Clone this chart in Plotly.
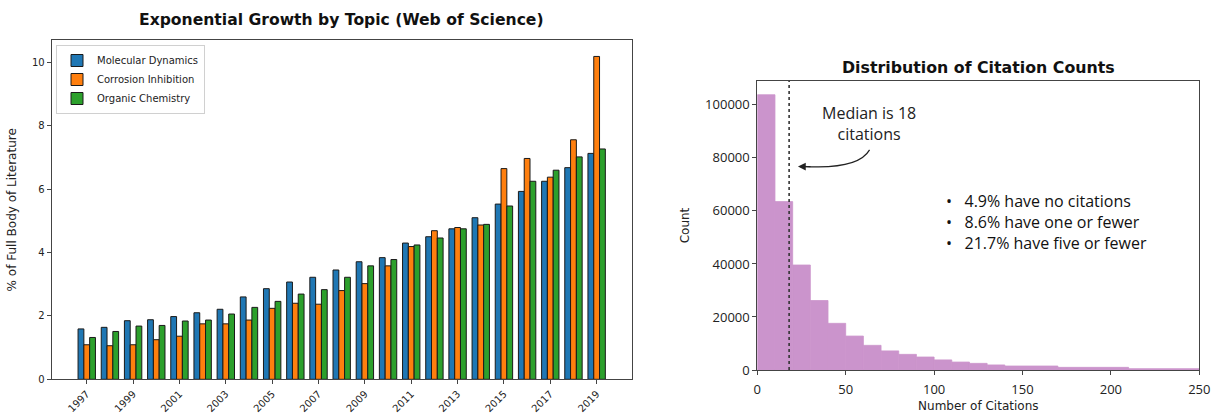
import numpy as np
import plotly.graph_objects as go

# ---- Web of Science share of literature by topic (% of full body) ----
years = list(range(1997, 2020))
molecular_dynamics = [1.59, 1.64, 1.85, 1.88, 1.98, 2.10, 2.21, 2.60, 2.86, 3.07, 3.22, 3.45,
                      3.71, 3.84, 4.30, 4.50, 4.75, 5.10, 5.53, 5.93, 6.25, 6.68, 7.13]
corrosion_inhibition = [1.09, 1.06, 1.09, 1.25, 1.36, 1.75, 1.75, 1.87, 2.24, 2.40, 2.37, 2.80,
                        3.02, 3.58, 4.19, 4.69, 4.79, 4.87, 6.65, 6.97, 6.38, 7.56, 10.19]
organic_chemistry = [1.32, 1.51, 1.68, 1.70, 1.84, 1.87, 2.06, 2.27, 2.46, 2.69, 2.83, 3.22,
                     3.58, 3.78, 4.24, 4.46, 4.75, 4.89, 5.47, 6.25, 6.60, 7.02, 7.27]
year_ticks = list(range(1997, 2020, 2))

# ---- Citation count histogram ----
bin_edges = [0, 10, 20, 30, 40, 50, 60, 70, 80, 90, 100, 110, 120, 130, 140, 170, 210, 250]
bin_counts = [103800, 63500, 39600, 26200, 17600, 12800, 9300, 7200, 5900, 4900,
              3800, 3000, 2500, 1900, 1500, 1000, 500]
median_citations = 18
summary_lines = ["4.9% have no citations", "8.6% have one or fewer", "21.7% have five or fewer"]

W, H = 1211, 413


def px_x(p):
    return p / W


def px_y(p):
    return 1 - p / H


MPL = "DejaVu Sans"
ROUND = "Open Sans"
HIST_COLOR = "#cb94cc"

fig = go.Figure()

series = [
    ("Molecular Dynamics", molecular_dynamics, "#1f77b4"),
    ("Corrosion Inhibition", corrosion_inhibition, "#ff7f0e"),
    ("Organic Chemistry", organic_chemistry, "#2ca02c"),
]
for name, vals, col in series:
    fig.add_trace(go.Bar(
        x=years, y=vals, name=name, xaxis="x", yaxis="y",
        marker=dict(color=col, line=dict(color="#1a1a1a", width=1)),
    ))

edges = np.array(bin_edges, dtype=float)
centers = (edges[:-1] + edges[1:]) / 2
widths = np.diff(edges)
fig.add_trace(go.Bar(
    x=centers, y=bin_counts, width=widths, xaxis="x2", yaxis="y2",
    marker=dict(color=HIST_COLOR, line=dict(color=HIST_COLOR, width=0.8)), showlegend=False,
))

ymax_left = max(max(molecular_dynamics), max(corrosion_inhibition), max(organic_chemistry)) * 1.05
ymax_right = max(bin_counts) * 1.05

axis_common = dict(showline=True, linecolor="#444", linewidth=1, mirror=True,
                   ticks="outside", ticklen=4, tickcolor="#444", showgrid=False,
                   zeroline=False, ticklabeloverflow="allow", automargin=False)

fig.update_layout(
    width=W, height=H, margin=dict(l=0, r=0, t=0, b=0, autoexpand=False),
    paper_bgcolor="white", plot_bgcolor="white",
    barmode="group", bargap=0.25, bargroupgap=0,
    font=dict(family=MPL, color="#222"),
    xaxis=dict(domain=[px_x(51.7), px_x(631.7)], range=[1995.4875, 2020.5125],
               tickvals=year_ticks, tickangle=-45, tickfont=dict(size=10, family=MPL),
               anchor="y", **axis_common),
    yaxis=dict(domain=[px_y(379.3), px_y(40.3)], range=[0, ymax_left],
               tickvals=[0, 2, 4, 6, 8, 10], tickfont=dict(size=10, family=MPL),
               title=dict(text="% of Full Body of Literature", font=dict(size=12), standoff=12),
               anchor="x", **axis_common),
    xaxis2=dict(domain=[px_x(757.3), px_x(1199.3)], range=[0, 250],
                tickvals=[0, 50, 100, 150, 200, 250], tickfont=dict(size=13, family=ROUND),
                ticklabelstandoff=3,
                title=dict(text="Number of Citations", font=dict(size=12, family=MPL), standoff=8),
                anchor="y2", **axis_common),
    yaxis2=dict(domain=[px_y(370), px_y(81)], range=[0, ymax_right],
                tickvals=[0, 20000, 40000, 60000, 80000, 100000], tickformat="d",
                tickfont=dict(size=13, family=ROUND),
                title=dict(text="Count", font=dict(size=12, family=MPL), standoff=12),
                anchor="x2", **axis_common),
    legend=dict(x=px_x(56), y=px_y(45), xanchor="left", yanchor="top",
                bgcolor="white", bordercolor="#d0d0d0", borderwidth=1,
                font=dict(size=10, family=MPL), itemwidth=30, tracegroupgap=0),
)

# titles
fig.add_annotation(x=px_x(341.7), y=px_y(20), xref="paper", yref="paper", showarrow=False,
                   xanchor="center", yanchor="middle",
                   text="<b>Exponential Growth by Topic (Web of Science)</b>",
                   font=dict(size=15.6, family=MPL, color="#111"))
fig.add_annotation(x=px_x(978.3), y=px_y(68), xref="paper", yref="paper", showarrow=False,
                   xanchor="center", yanchor="middle",
                   text="<b>Distribution of Citation Counts</b>",
                   font=dict(size=15.8, family=MPL, color="#111"))

# median marker
fig.add_shape(type="line", xref="x2", yref="y2 domain", x0=median_citations, x1=median_citations,
              y0=0, y1=1, line=dict(color="#333", width=1.6, dash="dot"))

# median label and curved pointer
fig.add_annotation(x=63, y=93000, xref="x2", yref="y2", showarrow=False,
                   xanchor="center", yanchor="middle",
                   text=f"Median is {median_citations}<br>citations",
                   font=dict(size=16, family=ROUND, color="#222"), align="center")
fig.add_shape(type="path", xref="x2", yref="y2",
              path="M 63.5,83000 Q 57,75500 26,76800",
              line=dict(color="#222", width=1.2))
fig.add_annotation(x=23, y=76700, xref="x2", yref="y2", ax=14, ay=0, showarrow=True,
                   arrowhead=2, arrowsize=1.3, arrowwidth=1.2, arrowcolor="#222", text="")

# summary bullets
fig.add_annotation(x=px_x(944), y=px_y(221.7), xref="paper", yref="paper", showarrow=False,
                   xanchor="left", yanchor="middle", align="left",
                   text="<br>".join("•   " + s for s in summary_lines),
                   font=dict(size=16, family=ROUND, color="#111"))

fig.write_html("out.html")
